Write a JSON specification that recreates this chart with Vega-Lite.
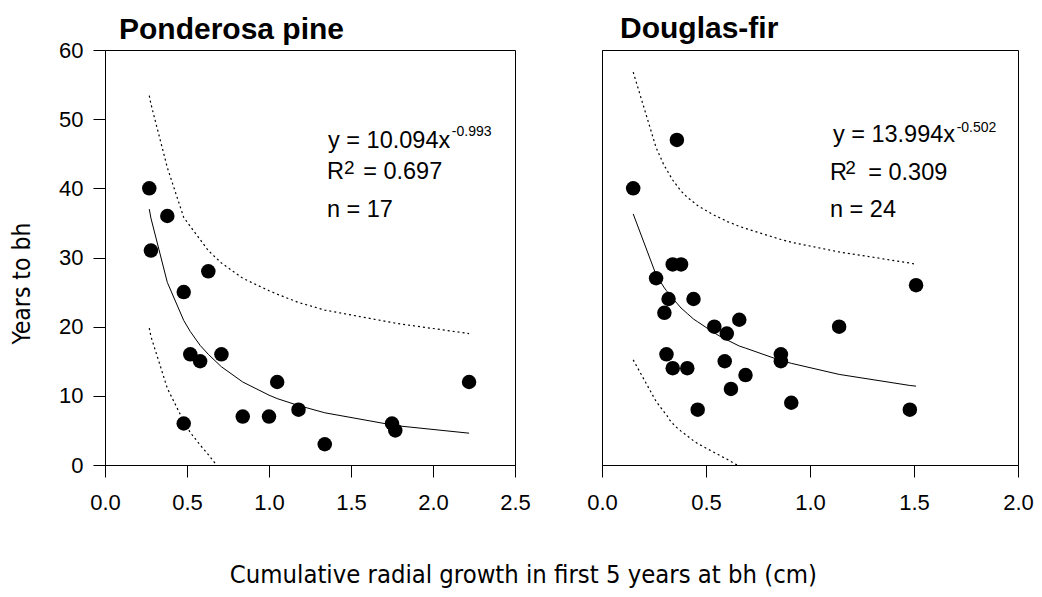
{
  "$schema": "https://vega.github.io/schema/vega-lite/v6.json",
  "background": "white",
  "padding": {"left": 9, "top": 13, "right": 10, "bottom": 5},
  "config": {
    "font": "Liberation Sans",
    "view": {"stroke": "black", "strokeWidth": 1},
    "axis": {
      "domainColor": "black", "tickColor": "black", "tickSize": 12, "grid": false, "labelFlush": false,
      "labelFont": "Liberation Sans", "labelFontSize": 22, "labelColor": "black",
      "titleFont": "DejaVu Sans Condensed", "titleFontSize": 24.5, "titleFontWeight": "normal", "titleColor": "black"
    },
    "title": {"font": "Liberation Sans", "color": "black"}
  },
  "title": {
    "text": "Cumulative radial growth in first 5 years at bh (cm)",
    "orient": "bottom", "anchor": "middle", "frame": "bounds",
    "font": "DejaVu Sans Condensed", "fontSize": 25.4, "fontWeight": "normal", "offset": 49, "dx": 2
  },
  "datasets": {
    "pp_pts": [
      {"x": 0.27, "y": 40}, {"x": 0.38, "y": 36}, {"x": 0.28, "y": 31}, {"x": 0.63, "y": 28},
      {"x": 0.48, "y": 25}, {"x": 0.52, "y": 16}, {"x": 0.58, "y": 15}, {"x": 0.71, "y": 16},
      {"x": 1.05, "y": 12}, {"x": 0.84, "y": 7}, {"x": 1.0, "y": 7}, {"x": 1.18, "y": 8},
      {"x": 0.48, "y": 6}, {"x": 1.34, "y": 3}, {"x": 1.75, "y": 6}, {"x": 1.77, "y": 5},
      {"x": 2.22, "y": 12}
    ],
    "pp_fit": [
      {"x": 0.27, "y": 37.0}, {"x": 0.28, "y": 35.7}, {"x": 0.38, "y": 26.4}, {"x": 0.48, "y": 20.9},
      {"x": 0.52, "y": 19.3}, {"x": 0.58, "y": 17.3}, {"x": 0.63, "y": 16.0}, {"x": 0.71, "y": 14.2},
      {"x": 0.84, "y": 12.0}, {"x": 1.0, "y": 10.1}, {"x": 1.05, "y": 9.6}, {"x": 1.18, "y": 8.6},
      {"x": 1.34, "y": 7.55}, {"x": 1.75, "y": 5.8}, {"x": 1.77, "y": 5.7}, {"x": 2.22, "y": 4.6}
    ],
    "pp_band": [
      {"b": "upper", "x": 0.27, "y": 53.4}, {"b": "upper", "x": 0.28, "y": 52.2}, {"b": "upper", "x": 0.38, "y": 43.0},
      {"b": "upper", "x": 0.48, "y": 35.8}, {"b": "upper", "x": 0.52, "y": 34.5}, {"b": "upper", "x": 0.58, "y": 32.6},
      {"b": "upper", "x": 0.63, "y": 31.0}, {"b": "upper", "x": 0.71, "y": 29.2}, {"b": "upper", "x": 0.84, "y": 27.0},
      {"b": "upper", "x": 1.0, "y": 25.2}, {"b": "upper", "x": 1.05, "y": 24.7}, {"b": "upper", "x": 1.18, "y": 23.5},
      {"b": "upper", "x": 1.34, "y": 22.4}, {"b": "upper", "x": 1.75, "y": 20.6}, {"b": "upper", "x": 1.77, "y": 20.5},
      {"b": "upper", "x": 2.22, "y": 19.0},
      {"b": "lower", "x": 0.27, "y": 19.8}, {"b": "lower", "x": 0.28, "y": 18.6}, {"b": "lower", "x": 0.38, "y": 11.1},
      {"b": "lower", "x": 0.48, "y": 6.3}, {"b": "lower", "x": 0.52, "y": 4.7}, {"b": "lower", "x": 0.58, "y": 2.9},
      {"b": "lower", "x": 0.63, "y": 1.5}, {"b": "lower", "x": 0.68, "y": 0}
    ],
    "pp_txt": [
      {"x": 1.36, "y": 45.9, "t": "y = 10.094x", "r": "main"},
      {"x": 2.115, "y": 47.5, "t": "-0.993", "r": "sup"},
      {"x": 1.353, "y": 41.35, "t": "R", "r": "main"},
      {"x": 1.458, "y": 42.1, "t": "2", "r": "sup2"},
      {"x": 1.574, "y": 41.35, "t": "= 0.697", "r": "main"},
      {"x": 1.353, "y": 35.8, "t": "n = 17", "r": "main"}
    ],
    "df_pts": [
      {"x": 0.36, "y": 47}, {"x": 0.15, "y": 40}, {"x": 0.34, "y": 29}, {"x": 0.38, "y": 29},
      {"x": 0.26, "y": 27}, {"x": 1.51, "y": 26}, {"x": 0.32, "y": 24}, {"x": 0.44, "y": 24},
      {"x": 0.30, "y": 22}, {"x": 0.66, "y": 21}, {"x": 0.54, "y": 20}, {"x": 0.60, "y": 19},
      {"x": 1.14, "y": 20}, {"x": 0.86, "y": 16}, {"x": 0.86, "y": 15}, {"x": 0.31, "y": 16},
      {"x": 0.59, "y": 15}, {"x": 0.34, "y": 14}, {"x": 0.41, "y": 14}, {"x": 0.69, "y": 13},
      {"x": 0.62, "y": 11}, {"x": 0.91, "y": 9}, {"x": 0.46, "y": 8}, {"x": 1.48, "y": 8}
    ],
    "df_fit": [
      {"x": 0.15, "y": 36.3}, {"x": 0.26, "y": 27.5}, {"x": 0.30, "y": 25.6}, {"x": 0.31, "y": 25.2},
      {"x": 0.32, "y": 24.8}, {"x": 0.34, "y": 24.05}, {"x": 0.36, "y": 23.4}, {"x": 0.38, "y": 22.7},
      {"x": 0.41, "y": 21.9}, {"x": 0.44, "y": 21.1}, {"x": 0.46, "y": 20.7}, {"x": 0.54, "y": 19.1},
      {"x": 0.59, "y": 18.2}, {"x": 0.60, "y": 18.1}, {"x": 0.62, "y": 17.8}, {"x": 0.66, "y": 17.2},
      {"x": 0.69, "y": 16.9}, {"x": 0.86, "y": 15.1}, {"x": 0.91, "y": 14.7}, {"x": 1.14, "y": 13.1},
      {"x": 1.48, "y": 11.5}, {"x": 1.51, "y": 11.4}
    ],
    "df_band": [
      {"b": "upper", "x": 0.15, "y": 56.8}, {"b": "upper", "x": 0.26, "y": 45.9}, {"b": "upper", "x": 0.30, "y": 43.2},
      {"b": "upper", "x": 0.31, "y": 42.8}, {"b": "upper", "x": 0.32, "y": 42.2}, {"b": "upper", "x": 0.34, "y": 41.2},
      {"b": "upper", "x": 0.36, "y": 40.4}, {"b": "upper", "x": 0.38, "y": 39.6}, {"b": "upper", "x": 0.41, "y": 38.7},
      {"b": "upper", "x": 0.44, "y": 38.0}, {"b": "upper", "x": 0.46, "y": 37.5}, {"b": "upper", "x": 0.54, "y": 36.1},
      {"b": "upper", "x": 0.59, "y": 35.4}, {"b": "upper", "x": 0.60, "y": 35.2}, {"b": "upper", "x": 0.62, "y": 35.0},
      {"b": "upper", "x": 0.66, "y": 34.5}, {"b": "upper", "x": 0.69, "y": 34.2}, {"b": "upper", "x": 0.86, "y": 32.6},
      {"b": "upper", "x": 0.91, "y": 32.2}, {"b": "upper", "x": 1.14, "y": 30.8}, {"b": "upper", "x": 1.48, "y": 29.2},
      {"b": "upper", "x": 1.51, "y": 29.0},
      {"b": "lower", "x": 0.15, "y": 15.2}, {"b": "lower", "x": 0.26, "y": 9.2}, {"b": "lower", "x": 0.30, "y": 7.6},
      {"b": "lower", "x": 0.31, "y": 7.3}, {"b": "lower", "x": 0.32, "y": 6.7}, {"b": "lower", "x": 0.34, "y": 6.0},
      {"b": "lower", "x": 0.36, "y": 5.4}, {"b": "lower", "x": 0.38, "y": 4.9}, {"b": "lower", "x": 0.41, "y": 4.2},
      {"b": "lower", "x": 0.44, "y": 3.5}, {"b": "lower", "x": 0.46, "y": 3.1}, {"b": "lower", "x": 0.54, "y": 1.8},
      {"b": "lower", "x": 0.59, "y": 1.0}, {"b": "lower", "x": 0.60, "y": 0.87}, {"b": "lower", "x": 0.62, "y": 0.5},
      {"b": "lower", "x": 0.65, "y": 0}
    ],
    "df_txt": [
      {"x": 1.11, "y": 46.65, "t": "y = 13.994x", "r": "main"},
      {"x": 1.705, "y": 48.2, "t": "-0.502", "r": "sup"},
      {"x": 1.096, "y": 41.25, "t": "R", "r": "main"},
      {"x": 1.17, "y": 42.1, "t": "2", "r": "sup2"},
      {"x": 1.28, "y": 41.25, "t": "= 0.309", "r": "main"},
      {"x": 1.096, "y": 35.8, "t": "n = 24", "r": "main"}
    ]
  },
  "bounds": "flush",
  "spacing": 87,
  "hconcat": [
    {
      "width": 410, "height": 415,
      "title": {"text": "Ponderosa pine", "anchor": "start", "frame": "group", "fontSize": 30, "fontWeight": "bold", "dx": 14, "offset": -6},
      "encoding": {
        "x": {"field": "x", "type": "quantitative", "scale": {"domain": [0, 2.5], "nice": false, "zero": false},
              "axis": {"values": [0, 0.5, 1, 1.5, 2, 2.5], "format": ".1f", "title": null, "labelPadding": 15}},
        "y": {"field": "y", "type": "quantitative", "scale": {"domain": [0, 60], "nice": false},
              "axis": {"values": [0, 10, 20, 30, 40, 50, 60], "title": "Years to bh", "labelPadding": 10, "titlePadding": 24, "titleY": 233}}
      },
      "layer": [
        {"data": {"name": "pp_band"}, "mark": {"type": "line", "color": "black", "strokeWidth": 1.2, "strokeDash": [2, 3]},
         "encoding": {"detail": {"field": "b"}}},
        {"data": {"name": "pp_fit"}, "mark": {"type": "line", "color": "black", "strokeWidth": 1}, "encoding": {}},
        {"data": {"name": "pp_pts"}, "mark": {"type": "point", "shape": "circle", "filled": true, "size": 210, "color": "black", "opacity": 1}, "encoding": {}},
        {"data": {"name": "pp_txt"}, "transform": [{"filter": "datum.r == 'main'"}],
         "mark": {"type": "text", "align": "left", "baseline": "alphabetic", "fontSize": 23.5, "color": "black"},
         "encoding": {"text": {"field": "t"}}},
        {"data": {"name": "pp_txt"}, "transform": [{"filter": "datum.r == 'sup'"}],
         "mark": {"type": "text", "align": "left", "baseline": "alphabetic", "fontSize": 14, "color": "black"},
         "encoding": {"text": {"field": "t"}}},
        {"data": {"name": "pp_txt"}, "transform": [{"filter": "datum.r == 'sup2'"}],
         "mark": {"type": "text", "align": "left", "baseline": "alphabetic", "fontSize": 19, "color": "black"},
         "encoding": {"text": {"field": "t"}}}
      ]
    },
    {
      "width": 416, "height": 415,
      "title": {"text": "Douglas-fir", "anchor": "start", "frame": "group", "fontSize": 30, "fontWeight": "bold", "dx": 18, "offset": 6},
      "encoding": {
        "x": {"field": "x", "type": "quantitative", "scale": {"domain": [0, 2.0], "nice": false, "zero": false},
              "axis": {"values": [0, 0.5, 1, 1.5, 2], "format": ".1f", "title": null, "labelPadding": 15}},
        "y": {"field": "y", "type": "quantitative", "scale": {"domain": [0, 60], "nice": false},
              "axis": {"labels": false, "ticks": false, "title": null}}
      },
      "layer": [
        {"data": {"name": "df_band"}, "mark": {"type": "line", "color": "black", "strokeWidth": 1.2, "strokeDash": [2, 3]},
         "encoding": {"detail": {"field": "b"}}},
        {"data": {"name": "df_fit"}, "mark": {"type": "line", "color": "black", "strokeWidth": 1}, "encoding": {}},
        {"data": {"name": "df_pts"}, "mark": {"type": "point", "shape": "circle", "filled": true, "size": 210, "color": "black", "opacity": 1}, "encoding": {}},
        {"data": {"name": "df_txt"}, "transform": [{"filter": "datum.r == 'main'"}],
         "mark": {"type": "text", "align": "left", "baseline": "alphabetic", "fontSize": 23.5, "color": "black"},
         "encoding": {"text": {"field": "t"}}},
        {"data": {"name": "df_txt"}, "transform": [{"filter": "datum.r == 'sup'"}],
         "mark": {"type": "text", "align": "left", "baseline": "alphabetic", "fontSize": 14, "color": "black"},
         "encoding": {"text": {"field": "t"}}},
        {"data": {"name": "df_txt"}, "transform": [{"filter": "datum.r == 'sup2'"}],
         "mark": {"type": "text", "align": "left", "baseline": "alphabetic", "fontSize": 19, "color": "black"},
         "encoding": {"text": {"field": "t"}}}
      ]
    }
  ]
}
